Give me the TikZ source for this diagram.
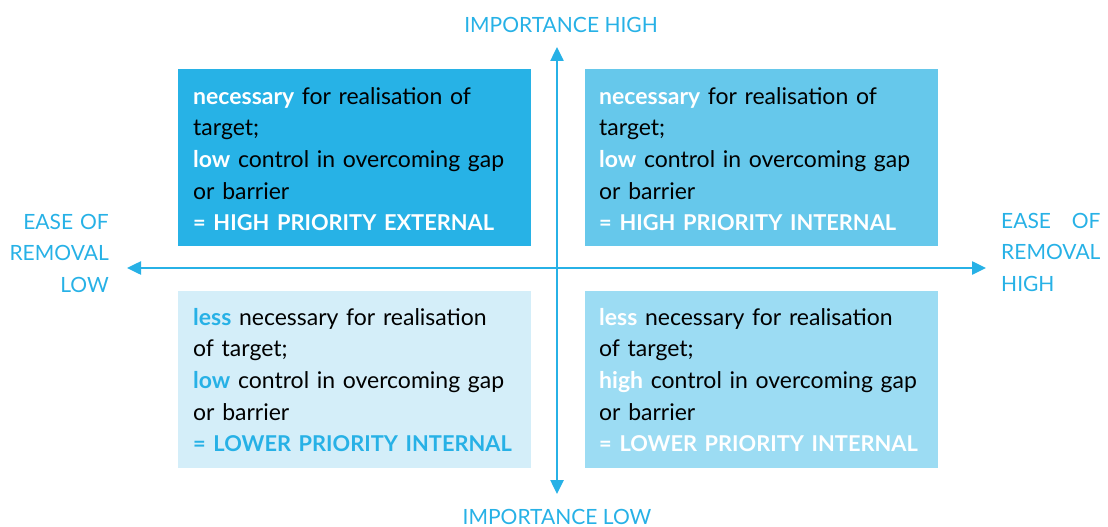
\documentclass[tikz,border=0pt]{standalone}
\usepackage{fontspec}
\setmainfont{Lato}
\usepackage{calc}
\usetikzlibrary{arrows.meta}
\definecolor{cblue}{RGB}{39,177,230}
\definecolor{cq1}{RGB}{39,178,230}
\definecolor{cq2}{RGB}{102,200,235}
\definecolor{cq3}{RGB}{212,238,249}
\definecolor{cq4}{RGB}{156,220,243}
\newcommand{\prio}[1]{{\fontsize{21.8}{31.7}\selectfont\bfseries #1}}
\begin{document}
\begin{tikzpicture}[x=1pt,y=-1pt,
  quad/.style={minimum width=353pt,minimum height=177pt,inner sep=0pt,draw=none},
  qtext/.style={font=\fontsize{23}{31.7}\selectfont,text width=345pt,align=left,inner sep=0pt,anchor=base west,text=black},
  axlabel/.style={font=\fontsize{21}{31.5}\selectfont,text=cblue,inner sep=0pt},
  axis/.style={draw=cblue,line width=2.5pt,{Triangle[length=14pt,width=13pt]}-{Triangle[length=14pt,width=13pt]}}]
\useasboundingbox (0,0) rectangle (1108,527);
% quadrants
\node[quad,fill=cq1] (tl) at (354.5,157.5) {};
\node[quad,fill=cq2] (tr) at (761,157.5) {};
\node[quad,fill=cq3] (bl) at (354.5,379) {};
\node[quad,fill=cq4] (br) at (761,379) {};
% texts
\node[qtext] (tlt) at (193,104) {\textbf{\color{white}necessary} for realisation of\\target;\\\textbf{\color{white}low} control in overcoming gap\\or barrier\\{\color{white}\prio{= HIGH PRIORITY EXTERNAL}}};
\node[qtext] (trt) at (599,104) {\textbf{\color{white}necessary} for realisation of\\target;\\\textbf{\color{white}low} control in overcoming gap\\or barrier\\{\color{white}\prio{= HIGH PRIORITY INTERNAL}}};
\node[qtext] (blt) at (193,325) {\textbf{\color{cblue}less} necessary for realisation\\of target;\\\textbf{\color{cblue}low} control in overcoming gap\\or barrier\\{\color{cblue}\prio{= LOWER PRIORITY INTERNAL}}};
\node[qtext] (brt) at (599,325) {\textbf{\color{white}less} necessary for realisation\\of target;\\\textbf{\color{white}high} control in overcoming gap\\or barrier\\{\color{white}\prio{= LOWER PRIORITY INTERNAL}}};
% axes
\coordinate (top) at (557,47);
\coordinate (bot) at (557,494);
\coordinate (lft) at (127,268);
\coordinate (rgt) at (986,268);
\draw[axis] (lft) -- (rgt);
\draw[axis] (bot) -- (top);
% labels
\node[axlabel,anchor=base] (ih) at (561,33) {IMPORTANCE HIGH};
\node[axlabel,anchor=base] (il) at (557,524) {IMPORTANCE LOW};
\node[axlabel,anchor=base east,text width=120pt,align=right] (el) at (109,229) {EASE OF\\REMOVAL\\LOW};
\node[axlabel,anchor=base west,text width=120pt,align=left] (eh) at (1001,228) {\makebox[\widthof{REMOVAL}][s]{EASE\hfill OF}\\REMOVAL\\HIGH};
\end{tikzpicture}
\end{document}
